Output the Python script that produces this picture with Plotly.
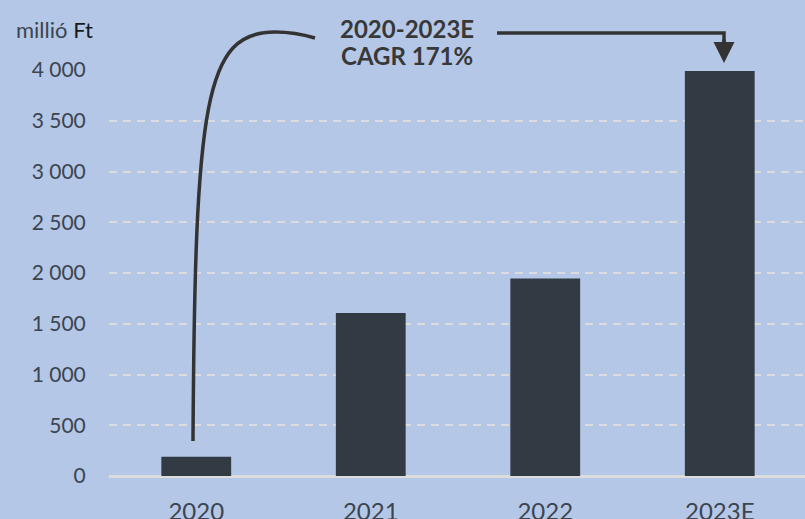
import plotly.graph_objects as go

categories = ["2020", "2021", "2022", "2023E"]
values = [190, 1605, 1945, 3990]
y_ticks = [0, 500, 1000, 1500, 2000, 2500, 3000, 3500, 4000]
unit_label = "millió"
unit_label2 = "Ft"
cagr_line1 = "2020-2023E"
cagr_line2 = "CAGR 171%"

W, H = 807, 519
L, R, T, B = 109, 0, 70, 43
BG = "#b4c7e7"
BAR = "#323a43"
TXT = "#3b4450"
LINE = "#333333"

def px(x):
    return (x - L) / (W - L - R)

def py(y):
    return (H - B - y) / (H - T - B)

fig = go.Figure()
fig.add_trace(go.Bar(x=categories, y=values, marker=dict(color=BAR, line=dict(width=0)),
                     hoverinfo="skip"))

curve = (f"M {px(193)},{py(441)} C {px(195)},{py(100)} {px(205)},{py(32)} {px(275)},{py(32)} "
         f"C {px(290)},{py(32)} {px(305)},{py(35)} {px(315)},{py(38)}")
hline = f"M {px(497)},{py(33)} L {px(724)},{py(33)} L {px(724)},{py(45)}"

fig.update_layout(
    width=W, height=H,
    margin=dict(l=L, r=R, t=T, b=B, autoexpand=False),
    paper_bgcolor=BG, plot_bgcolor=BG,
    separators=", ",
    showlegend=False,
    bargap=0.6,
    font=dict(family="Lato", size=21, color=TXT),
    xaxis=dict(showgrid=False, ticks="outside", ticklen=14, tickcolor="rgba(0,0,0,0)",
               tickfont=dict(size=24, color=TXT), showline=False, zeroline=False,
               automargin=False),
    yaxis=dict(range=[0, 4000], tickvals=y_ticks, tickformat=",d",
               showgrid=True, gridcolor="#dcdcdc", gridwidth=2, griddash="8px,6px",
               zeroline=True, zerolinecolor="#dcdcdc", zerolinewidth=3,
               ticks="outside", ticklen=18, tickcolor="rgba(0,0,0,0)",
               tickfont=dict(size=21, color=TXT), showline=False, automargin=False),
    shapes=[
        dict(type="path", path=curve, xref="paper", yref="paper",
             line=dict(color=LINE, width=3.5)),
        dict(type="path", path=hline, xref="paper", yref="paper",
             line=dict(color=LINE, width=3.5)),
    ],
    annotations=[
        dict(text=f"<span style='color:{TXT}'>{unit_label}</span> <span style='color:#1a1a1a'>{unit_label2}</span>",
             x=px(14), y=py(30), xref="paper", yref="paper", xanchor="left", yanchor="middle",
             showarrow=False, font=dict(size=22)),
        dict(text=f"<b>{cagr_line1}</b>", x=px(407), y=py(28), xref="paper", yref="paper",
             xanchor="center", yanchor="middle", showarrow=False,
             font=dict(size=24, color="#383838")),
        dict(text=f"<b>{cagr_line2}</b>", x=px(407), y=py(56), xref="paper", yref="paper",
             xanchor="center", yanchor="middle", showarrow=False,
             font=dict(size=24, color="#383838")),
        dict(text="", x=px(724), y=py(63), xref="paper", yref="paper",
             ax=0, ay=-25, axref="pixel", ayref="pixel",
             showarrow=True, arrowhead=2, arrowsize=1.2, arrowwidth=3.5, arrowcolor=LINE),
    ],
)

fig.write_html(
    "out.html",
    config={"displayModeBar": False},
    post_script="document.body.style.margin='0';document.body.style.overflow='hidden';"
                "document.body.style.background='" + BG + "';",
)
